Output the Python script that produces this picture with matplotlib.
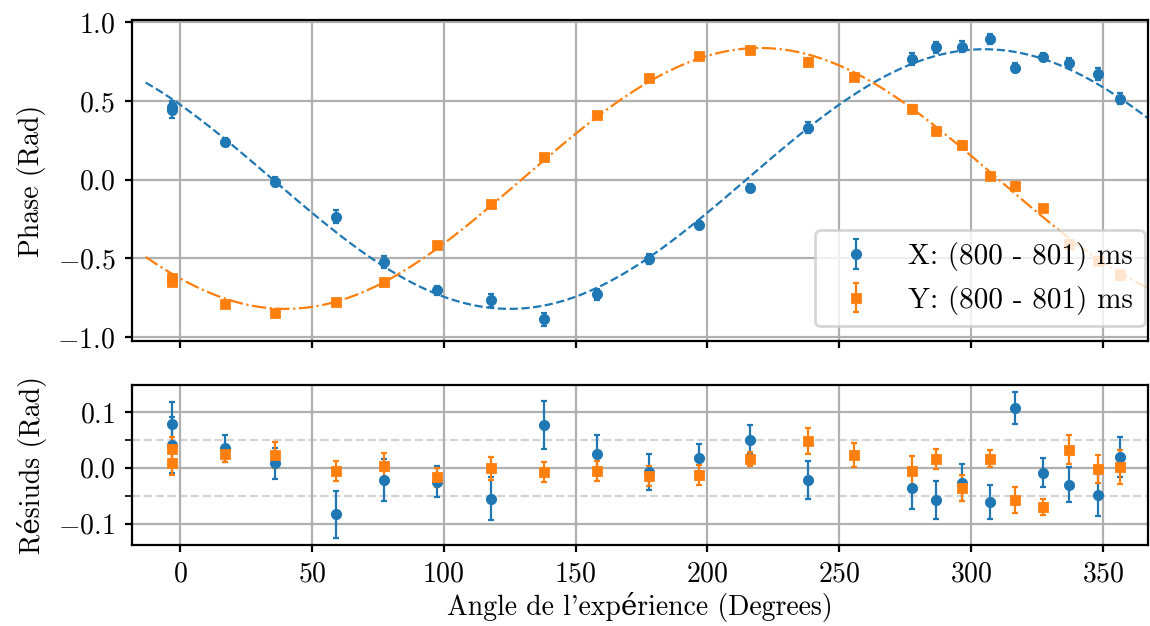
import numpy as np
import matplotlib
matplotlib.use("Agg")
import matplotlib.pyplot as plt

plt.rcParams['font.family'] = ['cmr10', 'DejaVu Serif']
plt.rcParams['mathtext.fontset'] = 'cm'
plt.rcParams['axes.formatter.use_mathtext'] = True
plt.rcParams['font.size'] = 10

# angles (degrees)
ang_x = [-3, -3, 17, 36, 59, 77.5, 97.5, 118, 138, 158, 178, 197, 216,
         238, 277.7, 286.7, 296.7, 307, 316.5, 327.4, 337, 348, 356.5]
ang_y = [-3, -3, 17, 36, 59, 77.5, 97.5, 118, 138, 158, 178, 197, 216,
         238, 255.5, 277.7, 286.7, 296.7, 307, 316.5, 327.4, 337, 348, 356.5]

# measured phases (rad)
phase_x = [0.46, 0.44, 0.240, -0.013, -0.235, -0.526, -0.704, -0.767, -0.888,
           -0.729, -0.506, -0.290, -0.053, 0.331, 0.768, 0.842, 0.846, 0.893,
           0.712, 0.782, 0.740, 0.670, 0.515]
phase_y = [-0.627, -0.649, -0.791, -0.850, -0.776, -0.653, -0.415, -0.155, 0.142,
           0.412, 0.647, 0.789, 0.823, 0.747, 0.655, 0.448, 0.312, 0.223, 0.022,
           -0.040, -0.182, -0.407, -0.515, -0.606]

# uncertainties
err_x = [0.039, 0.05, 0.024, 0.028, 0.042, 0.038, 0.028, 0.039, 0.043, 0.034,
         0.032, 0.025, 0.026, 0.034, 0.036, 0.034, 0.033, 0.031, 0.028, 0.026,
         0.031, 0.038, 0.036]
err_y = [0.021, 0.021, 0.013, 0.023, 0.018, 0.023, 0.017, 0.020, 0.018, 0.018,
         0.018, 0.018, 0.013, 0.024, 0.021, 0.026, 0.018, 0.023, 0.015, 0.023,
         0.014, 0.026, 0.025, 0.030]

# residuals (rad)
res_x = [0.078, 0.040, 0.035, 0.008, -0.083, -0.022, -0.025, -0.055, 0.076,
         0.024, -0.007, 0.017, 0.050, -0.021, -0.037, -0.058, -0.027, -0.061,
         0.107, -0.009, -0.030, -0.049, 0.019]
res_y = [0.034, 0.008, 0.024, 0.023, -0.005, 0.003, -0.017, -0.001, -0.008,
         -0.005, -0.014, -0.013, 0.016, 0.048, 0.023, -0.005, 0.015, -0.036,
         0.016, -0.057, -0.070, 0.032, -0.002, 0.001]

# fitted model parameters: A*cos(theta - phi) + c
fit_x = dict(A=0.825, phi=305.0, c=0.004)
fit_y = dict(A=0.829, phi=220.0, c=0.008)


def model(t, A, phi, c):
    return A * np.cos(np.deg2rad(t - phi)) + c


t = np.linspace(-13, 370, 500)

fig = plt.figure(figsize=(5.75, 3.13), dpi=200)
ax1 = fig.add_axes([0.1148, 0.4553, 0.8835, 0.5128])
ax2 = fig.add_axes([0.1148, 0.1294, 0.8835, 0.2556], sharex=ax1)

ekw = dict(ms=3, capsize=1.2, elinewidth=0.8, capthick=0.8, ls='none')

ax1.plot(t, model(t, **fit_x), '--', color='C0', lw=0.8)
ax1.plot(t, model(t, **fit_y), '-.', color='C1', lw=0.8)
ax1.errorbar(ang_x, phase_x, yerr=err_x, fmt='o', color='C0',
             label='X: (800 - 801) ms', **ekw)
ax1.errorbar(ang_y, phase_y, yerr=err_y, fmt='s', color='C1',
             label='Y: (800 - 801) ms', **ekw)
ax1.set_ylabel('Phase (Rad)')
ax1.set_ylim(-1.025, 1.015)
ax1.set_yticks([-1.0, -0.5, 0.0, 0.5, 1.0])
ax1.grid(True)
ax1.tick_params(labelbottom=False, length=2.5)
ax1.legend(loc='lower right', bbox_to_anchor=(1.011, 0.0), fontsize=10.5)

ax2.errorbar(ang_x, res_x, yerr=err_x, fmt='o', color='C0', **ekw)
ax2.errorbar(ang_y, res_y, yerr=err_y, fmt='s', color='C1', **ekw)
ax2.axhline(0.05, color='lightgray', ls='--', lw=0.8, zorder=0)
ax2.axhline(-0.05, color='lightgray', ls='--', lw=0.8, zorder=0)
ax2.set_ylim(-0.138, 0.148)
ax2.set_yticks([-0.1, 0.0, 0.1])
ax2.set_yticks([-0.05, 0.05], minor=True)
ax2.grid(True)
ax2.tick_params(which='both', length=2.5)
ax2.set_ylabel('Résiuds (Rad)')
ax2.set_xlabel("Angle de l'expérience (Degrees)", labelpad=1.5)
ax2.set_xlim(-18.2, 367.1)
ax2.set_xticks([0, 50, 100, 150, 200, 250, 300, 350])

fig.savefig('out.png')
